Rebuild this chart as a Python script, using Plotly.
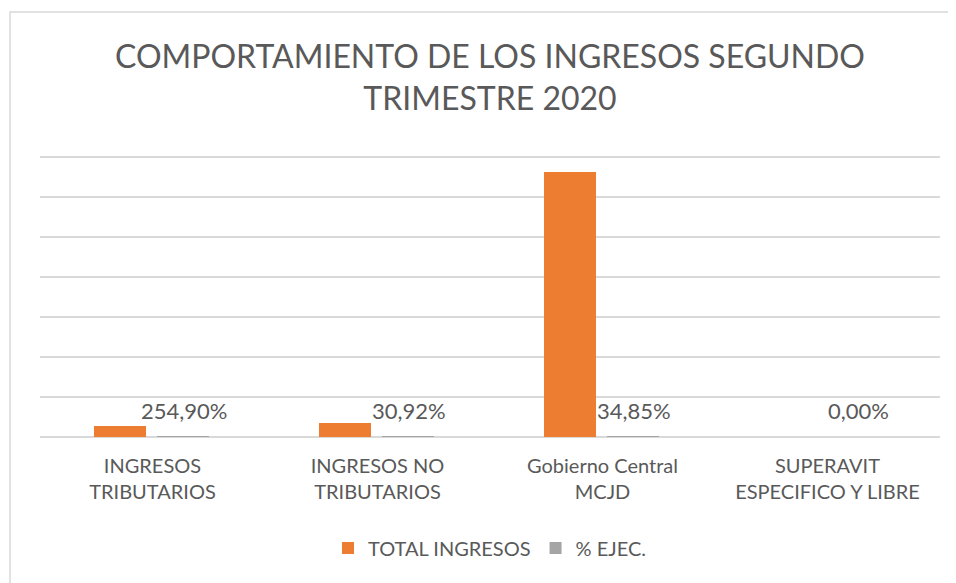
import plotly.graph_objects as go

categories = ["INGRESOS<br>TRIBUTARIOS", "INGRESOS NO<br>TRIBUTARIOS", "Gobierno Central<br>MCJD", "SUPERAVIT<br>ESPECIFICO Y LIBRE"]
total_ingresos = [275, 350, 6625, 0]
pct_ejec = [2.549, 0.3092, 0.3485, 0.0]       # % EJEC. (fraction), tiny on the shared axis
pct_labels = [f"{v*100:.2f}%".replace(".", ",") for v in pct_ejec]

FONT = "Lato, Carlito, Calibri, 'Open Sans', sans-serif"
TXT = "#595959"
GRID = "#d9d9d9"

Y_MAX = 7050
PLOT_H = 280 * Y_MAX / 7000
TOP = 149 - (PLOT_H - 280)

fig = go.Figure()
fig.add_trace(go.Bar(
    x=categories, y=total_ingresos, name="TOTAL INGRESOS",
    marker=dict(color="#ed7d31", line=dict(width=0)),
    width=0.231, offset=-0.26,
))
fig.add_trace(go.Bar(
    x=categories, y=pct_ejec, name="% EJEC.",
    marker=dict(color="#a5a5a5", line=dict(width=0)),
    width=0.231, offset=0.02,
))

for c, v, t in zip(categories, pct_ejec, pct_labels):
    fig.add_annotation(x=c, y=v, text=t, showarrow=False, xshift=31, yanchor="bottom", yshift=11,
                       font=dict(family=FONT, size=22, color=TXT))

# page body has an 8px offset, so figure coords = screen coords - 8
fig.add_shape(type="rect", xref="paper", yref="paper",
              x0=(2-32)/900, x1=1 + 60/900, y0=-0.7, y1=1 + (TOP-4)/PLOT_H,
              line=dict(color=GRID, width=1.5), fillcolor="rgba(0,0,0,0)", layer="below")

fig.update_layout(
    width=956, height=583,
    margin=dict(l=32, r=24, t=TOP, b=154),
    paper_bgcolor="white", plot_bgcolor="white",
    font=dict(family=FONT, color=TXT),
    title=dict(text="COMPORTAMIENTO DE LOS INGRESOS SEGUNDO<br>TRIMESTRE 2020",
               x=0.5, xref="paper", xanchor="center", y=1 - 60/583, yanchor="top",
               font=dict(family=FONT, size=32, color=TXT)),
    bargap=0, barmode="overlay",
    showlegend=True,
    legend=dict(orientation="h", x=0.5, xanchor="center", y=-(540-429)/PLOT_H, yanchor="middle",
                font=dict(family=FONT, size=20, color=TXT)),
    xaxis=dict(showgrid=False, showline=False, ticks="", ticklabelstandoff=15,
               tickfont=dict(family=FONT, size=20, color=TXT), fixedrange=True),
    yaxis=dict(range=[0, Y_MAX], dtick=1000, showgrid=True, gridcolor=GRID, gridwidth=1.5,
               zeroline=True, zerolinecolor=GRID, zerolinewidth=1.5, showticklabels=False, fixedrange=True),
)

fig.write_html("out.html")
